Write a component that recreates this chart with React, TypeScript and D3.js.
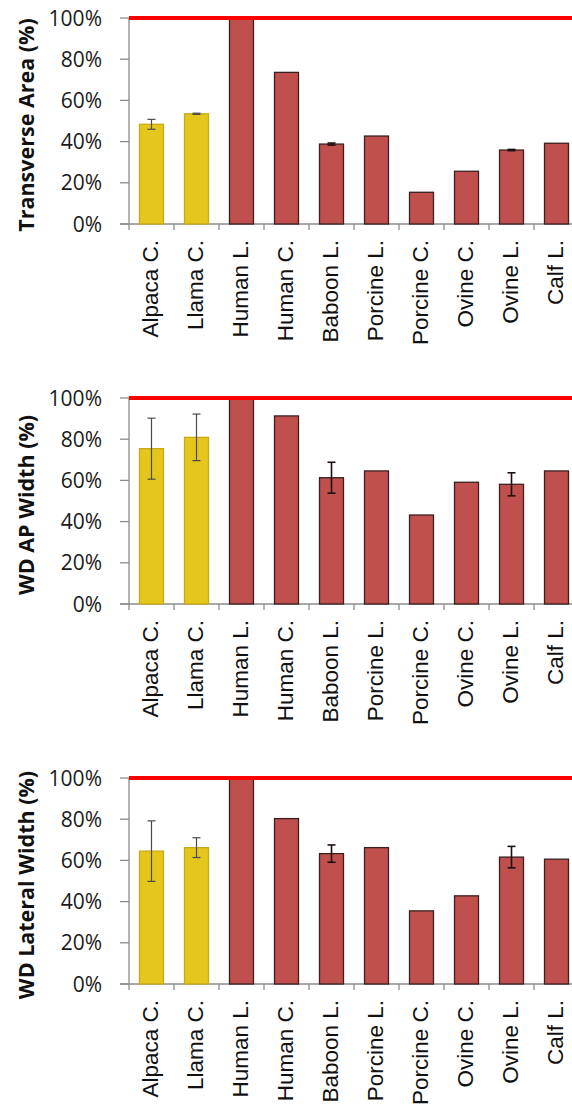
import { useEffect, useRef } from 'react'
import * as d3 from 'd3'

const categories = ['Alpaca C.', 'Llama C.', 'Human L.', 'Human C.', 'Baboon L.', 'Porcine L.', 'Porcine C.', 'Ovine C.', 'Ovine L.', 'Calf L.']
const camelids = ['Alpaca C.', 'Llama C.']

const transverseArea = [48.4, 53.5, 100, 73.6, 38.8, 42.7, 15.4, 25.6, 35.9, 39.2]
const transverseErr = [2.4, 0.3, 0, 0, 0.5, 0, 0, 0, 0.3, 0]

const apWidth = [75.4, 80.9, 100, 91.3, 61.3, 64.6, 43.2, 59.1, 58.1, 64.6]
const apErr = [14.8, 11.3, 0, 0, 7.5, 0, 0, 0, 5.6, 0]

const lateralWidth = [64.5, 66.2, 100, 80.3, 63.3, 66.2, 35.5, 42.8, 61.6, 60.6]
const lateralErr = [14.7, 4.8, 0, 0, 4.2, 0, 0, 0, 5.2, 0]

const yTicks = [0, 20, 40, 60, 80, 100]
const reference = 100

const panels = [
  { title: 'Transverse Area (%)', values: transverseArea, errors: transverseErr },
  { title: 'WD AP Width (%)', values: apWidth, errors: apErr },
  { title: 'WD Lateral Width (%)', values: lateralWidth, errors: lateralErr },
]

export default function App() {
  const svgRef = useRef<SVGSVGElement>(null)

  useEffect(() => {
    if (!svgRef.current) return
    const root = d3.select(svgRef.current)
    root.selectAll('*').remove()

    const left = 129
    const step = 45
    const plotH = 206
    const panelGap = 380
    const top0 = 18

    const x = d3.scaleBand<string>()
      .domain(categories)
      .range([left, left + step * categories.length])
      .paddingInner(0.467)
      .paddingOuter(0.2333)

    panels.forEach((p, pi) => {
      const top = top0 + pi * panelGap
      const bottom = top + plotH
      const y = d3.scaleLinear().domain([0, 100]).range([bottom, top])
      const g = root.append('g')

      // y axis
      g.append('line')
        .attr('x1', left).attr('x2', left)
        .attr('y1', y(100)).attr('y2', y(0))
        .attr('stroke', '#8c8c8c').attr('stroke-width', 1.3)
      yTicks.forEach(t => {
        g.append('line')
          .attr('x1', left - 9).attr('x2', left)
          .attr('y1', y(t)).attr('y2', y(t))
          .attr('stroke', '#8c8c8c').attr('stroke-width', 1.3)
        g.append('text')
          .attr('x', 102).attr('y', y(t))
          .attr('dy', '0.36em')
          .attr('text-anchor', 'end')
          .attr('font-family', 'Open Sans')
          .attr('font-size', 21)
          .attr('fill', '#1a1a1a')
          .text(`${t}%`)
      })

      // x axis
      g.append('line')
        .attr('x1', left - 9).attr('x2', left + step * categories.length)
        .attr('y1', bottom).attr('y2', bottom)
        .attr('stroke', '#8c8c8c').attr('stroke-width', 1.3)
      d3.range(categories.length + 1).forEach(i => {
        g.append('line')
          .attr('x1', left + i * x.step()).attr('x2', left + i * x.step())
          .attr('y1', bottom).attr('y2', bottom + 6)
          .attr('stroke', '#8c8c8c').attr('stroke-width', 1.3)
      })

      // bars
      g.selectAll('rect.bar')
        .data(categories)
        .join('rect')
        .attr('class', 'bar')
        .attr('x', d => x(d)!)
        .attr('width', x.bandwidth())
        .attr('y', (d, i) => y(p.values[i]))
        .attr('height', (d, i) => y(0) - y(p.values[i]))
        .attr('fill', d => camelids.includes(d) ? '#e5c61c' : '#c0504d')
        .attr('stroke', d => camelids.includes(d) ? '#c9a915' : '#3b2020')
        .attr('stroke-width', 1.3)

      // error bars
      categories.forEach((c, i) => {
        const e = p.errors[i]
        if (!e) return
        const cx = x(c)! + x.bandwidth() / 2
        const col = camelids.includes(c) ? '#4a4a4a' : '#1e1010'
        const w = camelids.includes(c) ? 1.2 : 1.6
        g.append('line')
          .attr('x1', cx).attr('x2', cx)
          .attr('y1', y(p.values[i] + e)).attr('y2', y(p.values[i] - e))
          .attr('stroke', col).attr('stroke-width', w)
        ;[p.values[i] + e, p.values[i] - e].forEach(v => {
          g.append('line')
            .attr('x1', cx - 4).attr('x2', cx + 4)
            .attr('y1', y(v)).attr('y2', y(v))
            .attr('stroke', col).attr('stroke-width', w)
        })
      })

      // 100% reference line
      g.append('line')
        .attr('x1', left).attr('x2', 572)
        .attr('y1', y(reference)).attr('y2', y(reference))
        .attr('stroke', '#ff0000').attr('stroke-width', 4)

      // category labels
      categories.forEach(c => {
        const cx = x(c)! + x.bandwidth() / 2
        g.append('text')
          .attr('transform', `translate(${cx},${bottom + 16}) rotate(-90)`)
          .attr('dy', '0.3em')
          .attr('text-anchor', 'end')
          .attr('font-family', 'Liberation Sans')
          .attr('font-size', 22.5)
          .attr('fill', '#111')
          .text(c)
      })

      // y title
      g.append('text')
        .attr('transform', `translate(34,${(top + bottom) / 2 + 4}) rotate(-90)`)
        .attr('text-anchor', 'middle')
        .attr('font-family', 'Open Sans')
        .attr('font-weight', 'bold')
        .attr('font-size', 21.5)
        .attr('fill', '#111')
        .text(p.title)
    })
  }, [])

  return (
    <svg
      ref={svgRef}
      width={572}
      height={1105}
      style={{ position: 'absolute', left: 0, top: 0, background: '#fff' }}
    />
  )
}
